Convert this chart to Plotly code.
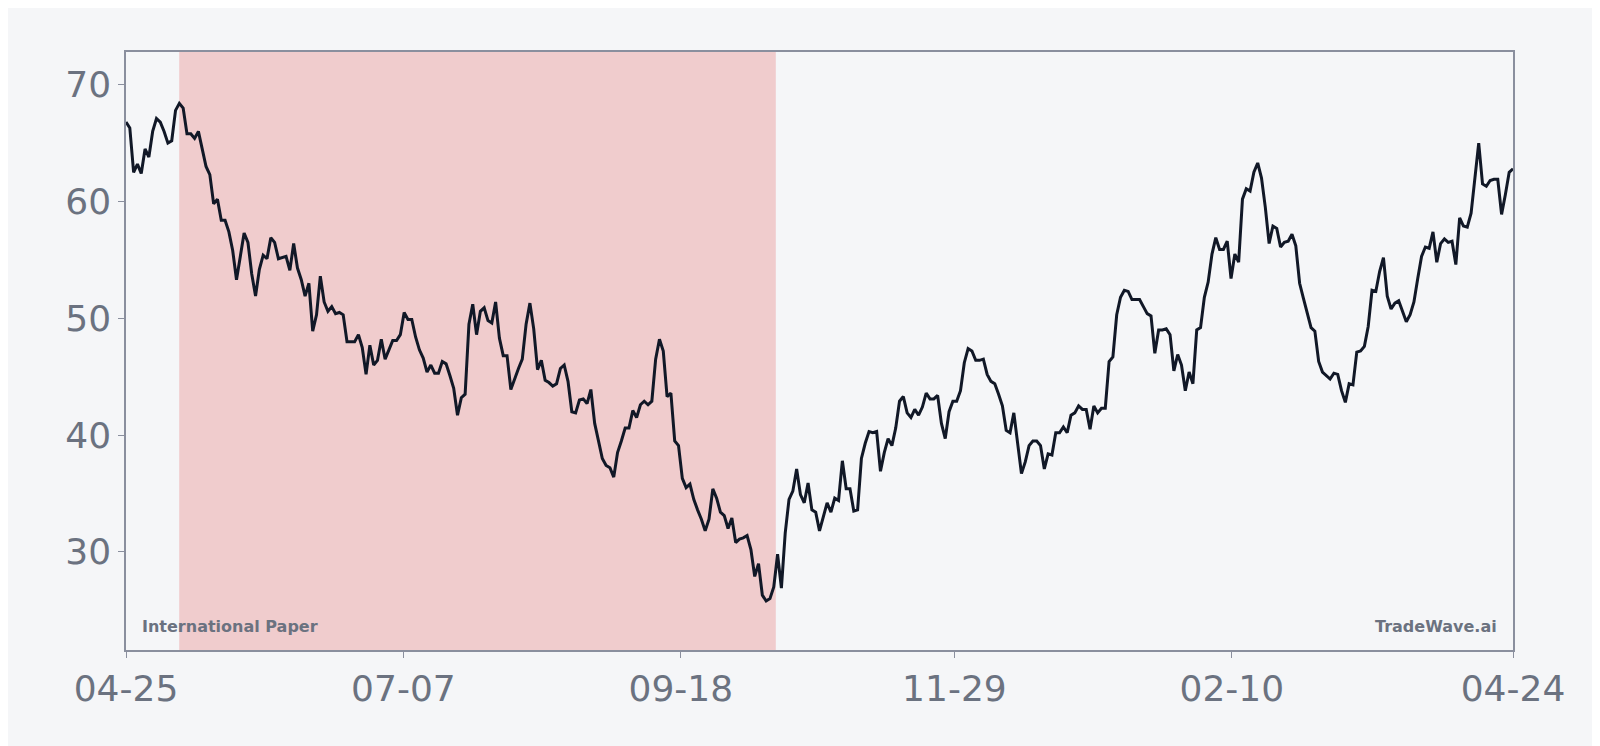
import plotly.graph_objects as go
import pandas as pd

# -- data (roughly one value per day) --
values = [
    66.8, 66.3, 62.5, 63.2, 62.4, 64.5, 63.8, 66, 67.1, 66.8, 66, 65, 65.2, 67.8, 68.4, 68, 65.8, 65.8, 65.4, 66,
    64.5, 63, 62.3, 59.8, 60.2, 58.4, 58.4, 57.4, 55.8, 53.3, 55.3, 57.3, 56.5, 53.8, 51.9, 54.2, 55.4, 55.1, 56.9, 56.5,
    55.1, 55.2, 55.3, 54.1, 56.4, 54.3, 53.3, 51.9, 53, 48.9, 50.3, 53.6, 51.4, 50.6, 51, 50.4, 50.5, 50.3, 48, 48,
    48, 48.6, 47.5, 45.2, 47.7, 46, 46.4, 48.2, 46.5, 47.3, 48.1, 48.1, 48.6, 50.5, 49.9, 49.9, 48.4, 47.3, 46.6, 45.4,
    46, 45.3, 45.3, 46.3, 46.1, 45.1, 44, 41.7, 43.2, 43.5, 49.5, 51.2, 48.6, 50.6, 50.9, 49.8, 49.6, 51.4, 48.3, 46.8,
    46.8, 43.9, 44.9, 45.7, 46.5, 49.5, 51.3, 49.1, 45.6, 46.4, 44.7, 44.5, 44.2, 44.4, 45.7, 46, 44.6, 42, 41.9, 43,
    43.1, 42.7, 43.9, 41, 39.5, 38, 37.4, 37.2, 36.4, 38.5, 39.5, 40.6, 40.6, 42.1, 41.5, 42.6, 42.9, 42.6, 42.9, 46.5,
    48.2, 47.2, 43.3, 43.6, 39.5, 39.1, 36.3, 35.5, 35.8, 34.5, 33.6, 32.8, 31.8, 32.8, 35.4, 34.6, 33.4, 33.1, 32, 32.9,
    30.8, 31.1, 31.2, 31.4, 30.2, 27.9, 29, 26.3, 25.8, 26, 27, 29.8, 26.9, 31.6, 34.5, 35.2, 37.1, 34.9, 34.2, 35.9,
    33.6, 33.4, 31.8, 33, 34.2, 33.4, 34.6, 34.4, 37.8, 35.4, 35.4, 33.5, 33.6, 38, 39.3, 40.3, 40.2, 40.3, 36.9, 38.5,
    39.7, 39.1, 40.6, 42.9, 43.3, 41.9, 41.5, 42.2, 41.7, 42.4, 43.6, 43.1, 43.1, 43.4, 41, 39.7, 42, 42.9, 42.9, 43.8,
    46.2, 47.4, 47.2, 46.4, 46.4, 46.5, 45.2, 44.6, 44.4, 43.5, 42.5, 40.4, 40.2, 41.9, 39.5, 36.7, 37.7, 39.1, 39.5, 39.5,
    39.1, 37.1, 38.4, 38.3, 40.2, 40.2, 40.7, 40.2, 41.7, 41.9, 42.5, 42.2, 42.2, 40.5, 42.5, 41.9, 42.3, 42.3, 46.3, 46.7,
    50.3, 51.8, 52.4, 52.3, 51.6, 51.6, 51.6, 51, 50.4, 50.2, 47, 49, 49, 49.1, 48.6, 45.5, 46.9, 46, 43.8, 45.4,
    44.4, 49, 49.2, 51.8, 53.1, 55.5, 56.9, 55.9, 55.9, 56.6, 53.4, 55.5, 54.8, 60.2, 61.1, 60.9, 62.5, 63.3, 62, 59.5,
    56.4, 57.9, 57.7, 56.1, 56.5, 56.6, 57.2, 56.2, 53, 51.7, 50.5, 49.2, 48.9, 46.3, 45.4, 45.1, 44.8, 45.3, 45.2, 43.8,
    42.8, 44.4, 44.3, 47.1, 47.2, 47.6, 49.3, 52.4, 52.3, 54, 55.2, 51.9, 50.8, 51.3, 51.5, 50.6, 49.7, 50.3, 51.4, 53.4,
    55.3, 56.1, 56, 57.4, 54.8, 56.4, 56.8, 56.5, 56.6, 54.6, 58.6, 57.9, 57.8, 59, 62.1, 65, 61.5, 61.3, 61.8, 61.9,
    61.9, 58.9, 60.6, 62.5, 62.8,
]
start_date = '2023-04-25'
end_date = '2024-04-24'
shade_start = '2023-05-09'
shade_end = '2023-10-13'
tick_dates = ['2023-04-25', '2023-07-07', '2023-09-18', '2023-11-29', '2024-02-10', '2024-04-24']
tick_labels = ['04-25', '07-07', '09-18', '11-29', '02-10', '04-24']
y_ticks = [30, 40, 50, 60, 70]

dates = pd.date_range(start_date, end_date, periods=len(values))

grey = '#6b7280'
bg = '#f5f6f8'

fig = go.Figure()
fig.add_vrect(x0=shade_start, x1=shade_end, fillcolor='#f0cccd', opacity=1,
              line_width=0, layer='below')
fig.add_trace(go.Scatter(x=dates, y=values, mode='lines',
                         line=dict(color='#111827', width=3)))

fig.update_layout(
    width=1600, height=746,
    margin=dict(l=118, r=95, t=44, b=104),
    paper_bgcolor=bg, plot_bgcolor=bg,
    showlegend=False,
    font=dict(family='DejaVu Sans', color=grey),
    annotations=[
        dict(text='<b>International Paper</b>', xref='paper', yref='paper', x=0.01, y=0.02,
             xanchor='left', yanchor='bottom', showarrow=False, font=dict(size=16, color=grey)),
        dict(text='<b>TradeWave.ai</b>', xref='paper', yref='paper', x=0.99, y=0.02,
             xanchor='right', yanchor='bottom', showarrow=False, font=dict(size=16, color=grey)),
    ],
)
fig.update_xaxes(range=[start_date, end_date], tickvals=tick_dates, ticktext=tick_labels,
                 tickfont=dict(size=36, color=grey), ticks='outside', ticklen=6, tickcolor='#8a8f9e',
                 showgrid=False, zeroline=False, showline=True, linecolor='#8a8f9e', linewidth=1.5, mirror=True)
fig.update_yaxes(range=[21.6, 72.8], tickvals=y_ticks,
                 tickfont=dict(size=36, color=grey), ticks='outside', ticklen=6, tickcolor='#8a8f9e',
                 showgrid=False, zeroline=False, showline=True, linecolor='#8a8f9e', linewidth=1.5, mirror=True)

fig.write_html("out.html")
